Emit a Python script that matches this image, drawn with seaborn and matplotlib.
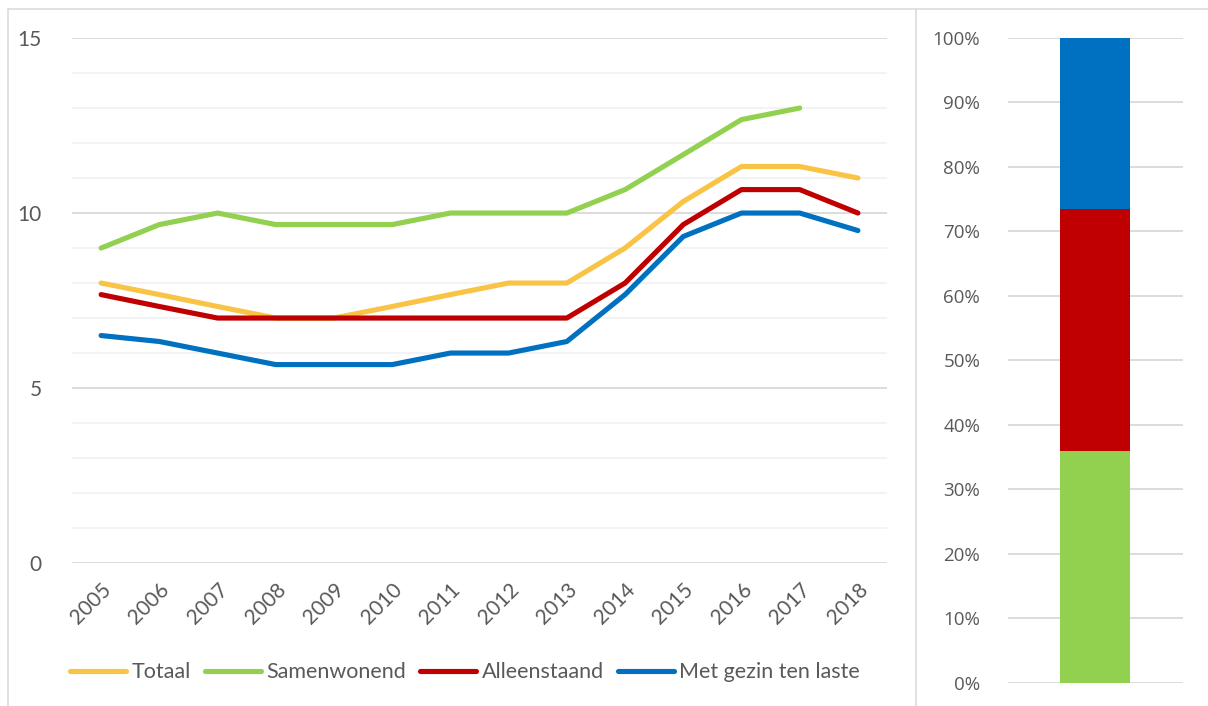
import numpy as np
import pandas as pd
import seaborn as sns
import matplotlib.pyplot as plt
from matplotlib.lines import Line2D
from matplotlib.ticker import MultipleLocator, PercentFormatter

# data
years = [2005, 2006, 2007, 2008, 2009, 2010, 2011, 2012, 2013, 2014, 2015, 2016, 2017, 2018]
totaal = [8.0, 7.67, 7.33, 7.0, 7.0, 7.33, 7.67, 8.0, 8.0, 9.0, 10.33, 11.33, 11.33, 11.0]
samenwonend = [9.0, 9.67, 10.0, 9.67, 9.67, 9.67, 10.0, 10.0, 10.0, 10.67, 11.67, 12.67, 13.0, np.nan]
alleenstaand = [7.67, 7.33, 7.0, 7.0, 7.0, 7.0, 7.0, 7.0, 7.0, 8.0, 9.67, 10.67, 10.67, 10.0]
met_gezin = [6.5, 6.33, 6.0, 5.67, 5.67, 5.67, 6.0, 6.0, 6.33, 7.67, 9.33, 10.0, 10.0, 9.5]

series_names = ['Totaal', 'Samenwonend', 'Alleenstaand', 'Met gezin ten laste']
colors = ['#F9C446', '#92D050', '#C00000', '#0070C0']

# share of each group (stacked bar on the right)
share_names = ['Samenwonend', 'Alleenstaand', 'Met gezin ten laste']
share_values = [36.0, 37.5, 26.5]
share_colors = ['#92D050', '#C00000', '#0070C0']

sns.set_style('white')
plt.rcParams['font.family'] = ['Lato', 'DejaVu Sans']
text_col = '#595959'
grid_major = '#D9D9D9'
grid_minor = '#F2F2F2'

df = pd.DataFrame({'year': years, 'Totaal': totaal, 'Samenwonend': samenwonend,
                   'Alleenstaand': alleenstaand, 'Met gezin ten laste': met_gezin})
long_df = df.melt(id_vars='year', var_name='groep', value_name='waarde').dropna()
long_df['pos'] = long_df['year'] - years[0]

fig = plt.figure(figsize=(12.08, 7.06), dpi=100)

# ---- left: line chart ----
ax = fig.add_axes([0.0596, 0.2025, 0.6747, 0.7436])
for y in np.arange(0, 16, 1):
    ax.axhline(y, color=grid_major if y % 5 == 0 else grid_minor,
               lw=2.0 if y == 0 else 1.3, zorder=0)
sns.lineplot(data=long_df, x='pos', y='waarde', hue='groep', hue_order=series_names,
             palette=colors, lw=3.7, ax=ax, legend=False, solid_capstyle='round', zorder=3)
ax.set_xlim(-0.5, len(years) - 0.5)
ax.set_ylim(0, 15)
ax.set_xticks(range(len(years)))
ax.set_xticklabels([str(y) for y in years], rotation=45, ha='right', rotation_mode='anchor')
ax.set_yticks([0, 5, 10, 15])
ax.tick_params(axis='y', length=0, pad=22, labelsize=15, labelcolor=text_col)
ax.tick_params(axis='x', length=0, pad=12, labelsize=15, labelcolor=text_col)
ax.set_xlabel('')
ax.set_ylabel('')
sns.despine(ax=ax, left=True, bottom=True)
ax.grid(False)

handles = [Line2D([0], [0], color=c, lw=3.7, solid_capstyle='round') for c in colors]
fig.legend(handles, series_names, loc='center', bbox_to_anchor=(0.385, 0.048), ncol=4,
           frameon=False, fontsize=15.5, handlelength=2.6, handletextpad=0.25,
           columnspacing=0.65, labelcolor=text_col)

# ---- right: stacked 100% bar ----
ax2 = fig.add_axes([0.8344, 0.0326, 0.1449, 0.9136])
for y in np.arange(0, 101, 10):
    ax2.axhline(y, color=grid_major, lw=1.3, zorder=0)
cum = np.cumsum(share_values)
bar_df = pd.DataFrame({'cat': [''] * len(share_names), 'top': cum, 'groep': share_names})
# draw from the top down so lower segments cover upper ones
for i in range(len(share_names) - 1, -1, -1):
    sns.barplot(data=bar_df.iloc[[i]], x='cat', y='top', color=share_colors[i],
                width=0.4, saturation=1, linewidth=0, ax=ax2, zorder=2)
ax2.set_xlim(-0.5, 0.5)
ax2.set_ylim(0, 100)
ax2.yaxis.set_major_locator(MultipleLocator(10))
ax2.yaxis.set_major_formatter(PercentFormatter(decimals=0))
ax2.set_xticks([])
ax2.set_xlabel('')
ax2.set_ylabel('')
for lab in ax2.get_yticklabels():
    lab.set_fontfamily(['Open Sans', 'DejaVu Sans'])
ax2.tick_params(axis='y', length=0, pad=20, labelsize=13.5, labelcolor=text_col)
sns.despine(ax=ax2, left=True, bottom=True)
ax2.grid(False)

# chart frame lines
border = '#D9D9D9'
fig.add_artist(Line2D([0.0066, 1.0], [0.9873, 0.9873], color=border, lw=1.1))
fig.add_artist(Line2D([0.0066, 0.0066], [0.0, 0.9873], color=border, lw=1.1))
fig.add_artist(Line2D([0.7583, 0.7583], [0.0, 0.9873], color=border, lw=1.1))

fig.savefig('out.png', dpi=100)
